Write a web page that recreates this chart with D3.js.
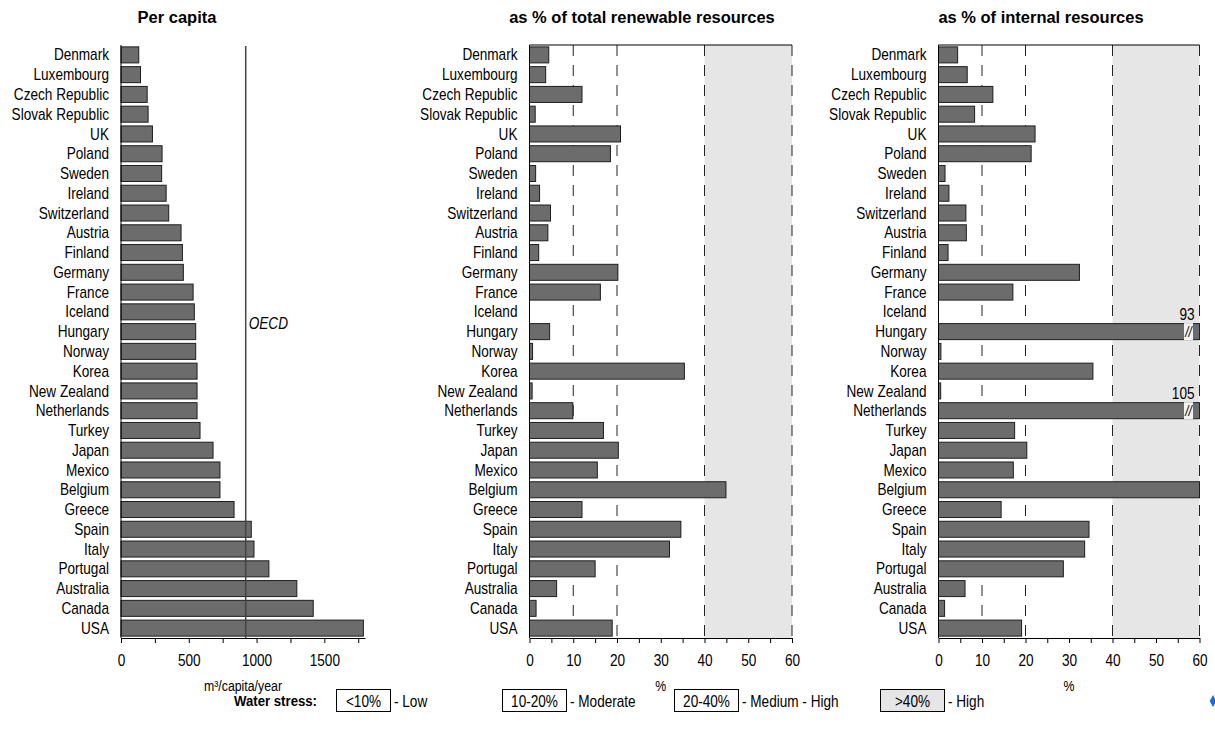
<!DOCTYPE html>
<html>
<head>
<meta charset="utf-8">
<script src="https://cdn.jsdelivr.net/npm/d3@7"></script>
<style>
  html, body { margin: 0; padding: 0; background: #fff; }
  svg { display: block; }
  text { font-family: "Liberation Sans", Arial, sans-serif; fill: #000; }
</style>
</head>
<body>
<svg id="chart" width="1215" height="742"></svg>
<script>
// OECD water abstractions, by country
const countries = ["Denmark","Luxembourg","Czech Republic","Slovak Republic","UK","Poland","Sweden","Ireland","Switzerland","Austria","Finland","Germany","France","Iceland","Hungary","Norway","Korea","New Zealand","Netherlands","Turkey","Japan","Mexico","Belgium","Greece","Spain","Italy","Portugal","Australia","Canada","USA"];

// m3 per capita per year
const perCapita = [131,144,193,200,232,303,300,333,352,443,453,460,532,541,551,551,561,561,561,583,679,730,730,834,961,981,1091,1297,1418,1788];
const oecdAverage = 920;

// abstraction as % of total renewable resources
const pctTotal = [4.4,3.7,12.0,1.3,20.8,18.5,1.4,2.3,4.8,4.2,2.1,20.2,16.2,0,4.6,0.7,35.4,0.6,9.9,16.9,20.3,15.5,44.9,12.0,34.6,32.0,15.0,6.2,1.5,18.9];

// abstraction as % of internal resources
const pctInternal = [4.4,6.6,12.5,8.3,22.2,21.3,1.5,2.4,6.3,6.4,2.2,32.4,17.1,0,93,0.55,35.5,0.5,105,17.5,20.3,17.2,60,14.4,34.6,33.6,28.7,6.1,1.4,19.1];

// water stress classes
const stressBounds = [10, 20, 40, 60];
const legendRanges = ["<10%", "10-20%", "20-40%", ">40%"];
const legendLevels = ["Low", "Moderate", "Medium - High", "High"];

const panelTitles = ["Per capita", "as % of total renewable resources", "as % of internal resources"];
const axisTitles = ["m³/capita/year", "%", "%"];

const BAR_FILL = "#6c6c6c";
const BAR_STROKE = "#1e1e1e";
const SHADE = "#e6e6e6";
const FONT = 16;
const NARROW = 0.85;   // horizontal squeeze for a condensed look
const TITLE_NARROW = 0.97;

const svg = d3.select("#chart");

const y = d3.scaleBand()
  .domain(countries)
  .range([45, 638])
  .paddingInner(0.19)
  .paddingOuter(0.095);

function countryAxis(g, x0) {
  g.append("line")
    .attr("x1", x0).attr("x2", x0)
    .attr("y1", y.range()[0]).attr("y2", y.range()[1])
    .attr("stroke", "#000");
  g.selectAll("text.country")
    .data(countries)
    .join("text")
    .attr("class", "country")
    .attr("x", x0 - 12)
    .attr("y", d => y(d) + y.bandwidth() / 2)
    .attr("dy", "0.35em")
    .attr("text-anchor", "end")
    .attr("font-size", FONT)
    .text(d => d);
}

function bottomAxis(g, x, ticks, labelEvery, format) {
  const axis = d3.axisBottom(x)
    .tickValues(ticks)
    .tickSize(5)
    .tickSizeOuter(0)
    .tickPadding(12)
    .tickFormat(d => (d % labelEvery === 0 ? format(d) : ""));
  const ag = g.append("g")
    .attr("transform", `translate(0,${y.range()[1]})`)
    .call(axis)
    .attr("font-family", null);
  ag.select(".domain").attr("stroke", "#000");
  ag.selectAll(".tick line").attr("stroke", "#000");
  ag.selectAll(".tick text")
    .attr("font-size", FONT)
    .attr("fill", "#000");
}

function drawBars(g, x, values, cap) {
  const rows = countries.map((c, i) => ({ c, v: values[i] }));
  g.selectAll("rect.bar")
    .data(rows.filter(d => d.v > 0))
    .join("rect")
    .attr("class", "bar")
    .attr("x", x(0))
    .attr("y", d => y(d.c))
    .attr("width", d => x(cap === undefined ? d.v : Math.min(d.v, cap)) - x(0))
    .attr("height", y.bandwidth())
    .attr("fill", BAR_FILL)
    .attr("stroke", BAR_STROKE)
    .attr("stroke-width", 1);
  return rows;
}

// ---- Panel 1: per capita ----
{
  const g = svg.append("g");
  const x = d3.scaleLinear().domain([0, 1800]).range([121, 365]);
  drawBars(g, x, perCapita);
  countryAxis(g, x(0));
  bottomAxis(g, x, d3.range(0, 1751, 250), 500, d3.format("d"));

  g.append("line")
    .attr("x1", x(oecdAverage)).attr("x2", x(oecdAverage))
    .attr("y1", 46).attr("y2", y.range()[1])
    .attr("stroke", "#444").attr("stroke-width", 1.5);
  g.append("text")
    .attr("x", x(oecdAverage) + 3)
    .attr("y", y("Hungary") + 5)
    .attr("font-size", FONT)
    .attr("font-style", "italic")
    .text("OECD");

  g.append("text")
    .attr("class", "title")
    .attr("x", 177).attr("y", 23)
    .attr("text-anchor", "middle")
    .attr("font-size", 17).attr("font-weight", "bold")
    .text(panelTitles[0]);
  g.append("text")
    .attr("x", (x.range()[0] + x.range()[1]) / 2).attr("y", 691)
    .attr("text-anchor", "middle")
    .attr("font-size", 14.5)
    .text(axisTitles[0]);
}

// ---- Panels 2 and 3: percentage of resources ----
function percentPanel(x0, x1, values, title, axisTitle, titleX) {
  const g = svg.append("g");
  const x = d3.scaleLinear().domain([0, 60]).range([x0, x1]);
  const top = y.range()[0], bottom = y.range()[1];

  // high stress zone
  g.append("rect")
    .attr("x", x(40)).attr("y", top)
    .attr("width", x(60) - x(40)).attr("height", bottom - top)
    .attr("fill", SHADE);

  // stress thresholds
  g.selectAll("line.bound")
    .data(stressBounds)
    .join("line")
    .attr("class", "bound")
    .attr("x1", d => x(d)).attr("x2", d => x(d))
    .attr("y1", top).attr("y2", bottom)
    .attr("stroke", "#222")
    .attr("stroke-width", 1)
    .attr("stroke-dasharray", "11,9");

  g.append("line")
    .attr("x1", x(0)).attr("x2", x(60))
    .attr("y1", top).attr("y2", top)
    .attr("stroke", "#000");

  const rows = drawBars(g, x, values, 60);

  // broken bars for values past the axis end
  const over = rows.filter(d => d.v > 60);
  g.selectAll("rect.gap")
    .data(over)
    .join("rect")
    .attr("class", "gap")
    .attr("x", x(60) - 15.5)
    .attr("y", d => y(d.c) - 0.5)
    .attr("width", 9)
    .attr("height", y.bandwidth() + 1)
    .attr("fill", "#f2f2f2");
  g.selectAll("text.brk")
    .data(over)
    .join("text")
    .attr("class", "brk")
    .attr("x", x(60) - 11)
    .attr("y", d => y(d.c) + y.bandwidth() / 2)
    .attr("dy", "0.35em")
    .attr("text-anchor", "middle")
    .attr("font-size", 14)
    .attr("font-style", "italic")
    .text("//");
  g.selectAll("text.val")
    .data(over)
    .join("text")
    .attr("class", "val")
    .attr("x", x(60) - 5)
    .attr("y", d => y(d.c) - 4)
    .attr("text-anchor", "end")
    .attr("font-size", FONT)
    .text(d => d3.format("d")(d.v));

  countryAxis(g, x(0));
  bottomAxis(g, x, d3.range(0, 61, 5), 10, d3.format("d"));

  g.append("text")
    .attr("class", "title")
    .attr("x", titleX).attr("y", 23)
    .attr("text-anchor", "middle")
    .attr("font-size", 17).attr("font-weight", "bold")
    .text(title);
  g.append("text")
    .attr("x", (x0 + x1) / 2).attr("y", 691)
    .attr("text-anchor", "middle")
    .attr("font-size", 14.5)
    .text(axisTitle);
}

percentPanel(529.5, 792, pctTotal, panelTitles[1], axisTitles[1], 642);
percentPanel(938.5, 1199.5, pctInternal, panelTitles[2], axisTitles[2], 1041);

// ---- Legend ----
{
  const g = svg.append("g");
  const legY = 701;
  g.append("text")
    .attr("x", 317).attr("y", legY).attr("dy", "0.35em")
    .attr("text-anchor", "end")
    .attr("font-size", 15.5).attr("font-weight", "bold")
    .text("Water stress:");
  const boxX = [336, 502, 674, 880];
  const boxW = [54, 64, 64, 64];
  legendRanges.forEach((r, i) => {
    g.append("rect")
      .attr("x", boxX[i] + 0.5).attr("y", 689.5)
      .attr("width", boxW[i]).attr("height", 22)
      .attr("fill", i === 3 ? SHADE : "#fff")
      .attr("stroke", "#000");
    g.append("text")
      .attr("x", boxX[i] + boxW[i] / 2 + 0.5).attr("y", legY).attr("dy", "0.35em")
      .attr("text-anchor", "middle")
      .attr("font-size", FONT)
      .text(r);
    g.append("text")
      .attr("x", boxX[i] + boxW[i] + 4).attr("y", legY).attr("dy", "0.35em")
      .attr("font-size", FONT)
      .text("- " + legendLevels[i]);
  });
}

// corner marker
svg.append("path")
  .attr("transform", "translate(1213,701)")
  .attr("d", d3.symbol(d3.symbolDiamond, 40)())
  .attr("fill", "#1a6fe0");

// squeeze every label horizontally around its own anchor point
svg.selectAll("text").each(function () {
  const t = d3.select(this);
  const s = t.classed("title") ? TITLE_NARROW : NARROW;
  const x = +t.attr("x") || 0;
  t.attr("transform", `translate(${x},0) scale(${s},1) translate(${-x},0)`);
});
</script>
</body>
</html>
